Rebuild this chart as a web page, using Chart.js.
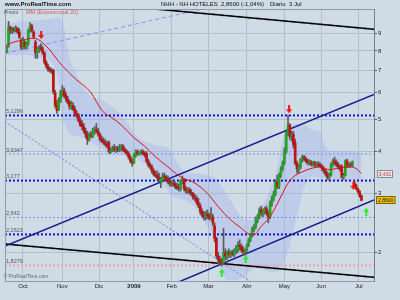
<!DOCTYPE html>
<html lang="es">
<head>
    <meta charset="UTF-8">
    <title>NHH - NH HOTELES</title>
    <script src="https://cdn.jsdelivr.net/npm/chart.js"></script>
    <style>
        body {
            margin: 0;
            background: #cfdce5;
        }
        .chart-box {
            position: relative;
            width: 400px;
            height: 300px;
        }
    </style>
</head>
<body>
    <div class="chart-box"><canvas id="nhhChart"></canvas></div>

    <script>
        // daily candles, first one is trading day 1
        const firstDay = 1;
        const opens = [
            7.95, 8.3, 9.4, 9.2, 9.3, 9.2, 9.35, 9.1, 8.6, 8.2,
            8.5, 8.2, 8.4, 9.2, 9.5, 9.1, 8.5, 7.9, 8.1, 8.2,
            8.1, 7.9, 7.4, 7.2, 7.05, 7.0, 7.0, 6.0, 5.5, 5.35,
            5.7, 6.0, 6.1, 5.9, 5.75, 5.6, 5.4, 5.5, 5.35, 5.2,
            5.15, 4.95, 4.85, 4.75, 4.6, 4.5, 4.35, 4.5, 4.45, 4.6,
            4.65, 4.6, 4.5, 4.35, 4.3, 4.25, 4.2, 4.25, 4.0, 4.05,
            4.1, 4.05, 4.1, 4.05, 4.1, 4.15, 4.05, 4.0, 3.95, 3.85,
            3.75, 3.7, 3.9, 4.0, 3.95, 3.98, 4.0, 3.95, 3.95, 3.75,
            3.65, 3.6, 3.5, 3.42, 3.4, 3.35, 3.25, 3.32, 3.38, 3.35,
            3.3, 3.25, 3.2, 3.22, 3.2, 3.15, 3.12, 3.1, 3.25, 3.3,
            3.1, 3.05, 3.08, 3.02, 3.0, 2.92, 2.9, 2.82, 2.75, 2.65,
            2.58, 2.55, 2.6, 2.57, 2.53, 2.55, 2.4, 2.2, 1.95, 1.9,
            1.88, 1.86, 2.0, 1.95, 2.0, 1.97, 2.0, 1.98, 2.02, 2.06,
            2.1, 2.08, 2.03, 2.0, 2.03, 2.1, 2.18, 2.25, 2.35, 2.38,
            2.5, 2.55, 2.68, 2.62, 2.65, 2.7, 2.62, 2.55, 2.8, 2.9,
            3.0, 3.25, 3.15, 3.4, 3.55, 3.7, 4.0, 4.5, 4.8, 4.45,
            4.5, 4.25, 3.7, 3.55, 3.6, 3.78, 3.85, 3.8, 3.75, 3.7,
            3.72, 3.66, 3.7, 3.65, 3.68, 3.64, 3.62, 3.55, 3.5, 3.42,
            3.35, 3.4, 3.65, 3.75, 3.7, 3.65, 3.6, 3.62, 3.35, 3.4,
            3.75, 3.62, 3.66, 3.64, 3.25, 3.18, 3.1, 3.04, 2.95
        ];
        const highs = [
            8.3, 9.8, 9.5, 9.4, 9.4, 9.5, 9.4, 9.3, 8.7, 8.8,
            8.6, 8.5, 9.3, 9.7, 9.6, 9.2, 8.6, 8.2, 8.3, 8.4,
            8.25, 7.95, 7.5, 7.3, 7.15, 7.1, 7.05, 6.1, 5.7, 5.8,
            6.1, 6.3, 6.2, 6.0, 5.85, 5.7, 5.65, 5.6, 5.45, 5.3,
            5.2, 5.05, 4.95, 4.85, 4.7, 4.6, 4.55, 4.6, 4.7, 4.75,
            4.85, 4.7, 4.55, 4.45, 4.4, 4.35, 4.3, 4.3, 4.1, 4.15,
            4.2, 4.15, 4.15, 4.2, 4.2, 4.2, 4.1, 4.05, 4.0, 3.9,
            3.8, 3.95, 4.05, 4.05, 4.0, 4.05, 4.05, 4.0, 4.0, 3.8,
            3.7, 3.65, 3.55, 3.5, 3.5, 3.45, 3.35, 3.45, 3.45, 3.4,
            3.38, 3.3, 3.28, 3.3, 3.25, 3.22, 3.2, 3.3, 3.38, 3.32,
            3.15, 3.12, 3.12, 3.08, 3.02, 2.98, 2.95, 2.9, 2.8, 2.7,
            2.65, 2.65, 2.68, 2.62, 2.72, 2.6, 2.45, 2.22, 2.0, 1.95,
            1.92, 2.36, 2.05, 2.02, 2.05, 2.02, 2.03, 2.05, 2.1, 2.15,
            2.18, 2.12, 2.08, 2.05, 2.12, 2.2, 2.28, 2.38, 2.42, 2.55,
            2.6, 2.72, 2.75, 2.7, 2.73, 2.75, 2.66, 2.85, 2.95, 3.05,
            3.3, 3.4, 3.45, 3.6, 3.75, 4.1, 4.6, 5.14, 4.85, 4.6,
            4.6, 4.35, 3.75, 3.65, 3.82, 3.9, 3.9, 3.85, 3.8, 3.78,
            3.76, 3.74, 3.75, 3.72, 3.74, 3.7, 3.66, 3.6, 3.55, 3.48,
            3.45, 3.7, 3.8, 3.85, 3.78, 3.72, 3.65, 3.65, 3.45, 3.78,
            3.8, 3.7, 3.72, 3.75, 3.28, 3.2, 3.12, 3.06, 2.97
        ];
        const lows = [
            7.9, 8.2, 9.0, 9.0, 9.1, 9.1, 9.0, 8.7, 8.1, 8.1,
            8.1, 8.1, 8.3, 9.1, 9.1, 8.7, 7.6, 7.6, 7.9, 8.0,
            7.8, 7.3, 7.1, 6.95, 6.9, 6.85, 5.95, 5.4, 5.2, 5.3,
            5.6, 5.85, 5.8, 5.65, 5.55, 5.35, 5.35, 5.3, 5.15, 5.05,
            4.9, 4.75, 4.65, 4.55, 4.4, 4.2, 4.3, 4.4, 4.4, 4.5,
            4.55, 4.45, 4.3, 4.25, 4.2, 4.15, 4.1, 3.95, 3.95, 4.0,
            4.0, 3.98, 4.0, 4.0, 4.02, 4.0, 3.95, 3.9, 3.8, 3.7,
            3.62, 3.68, 3.85, 3.9, 3.9, 3.92, 3.9, 3.85, 3.7, 3.6,
            3.55, 3.45, 3.38, 3.35, 3.3, 3.25, 3.12, 3.25, 3.3, 3.25,
            3.2, 3.15, 3.15, 3.15, 3.1, 3.08, 3.05, 3.05, 3.2, 3.05,
            3.0, 3.0, 2.98, 2.95, 2.88, 2.85, 2.78, 2.72, 2.6, 2.55,
            2.5, 2.5, 2.52, 2.5, 2.5, 2.4, 2.15, 1.92, 1.85, 1.84,
            1.82, 1.85, 1.9, 1.9, 1.93, 1.93, 1.95, 1.94, 1.98, 2.0,
            2.03, 2.0, 1.97, 1.96, 2.0, 2.08, 2.15, 2.22, 2.3, 2.35,
            2.45, 2.52, 2.58, 2.55, 2.6, 2.58, 2.45, 2.52, 2.75, 2.85,
            2.95, 3.1, 3.1, 3.35, 3.5, 3.65, 3.95, 4.45, 4.35, 4.3,
            4.1, 3.65, 3.45, 3.45, 3.55, 3.72, 3.75, 3.7, 3.65, 3.65,
            3.62, 3.62, 3.6, 3.6, 3.6, 3.58, 3.5, 3.45, 3.38, 3.3,
            3.27, 3.38, 3.6, 3.65, 3.6, 3.55, 3.5, 3.33, 3.3, 3.38,
            3.6, 3.58, 3.6, 3.6, 3.15, 3.08, 3.0, 2.92, 2.85
        ];
        const closes = [
            8.2, 9.4, 9.2, 9.3, 9.2, 9.35, 9.1, 8.8, 8.2, 8.6,
            8.25, 8.4, 9.2, 9.5, 9.2, 8.8, 7.9, 8.1, 8.2, 8.1,
            7.9, 7.4, 7.2, 7.05, 7.0, 6.95, 6.05, 5.5, 5.3, 5.65,
            6.0, 6.1, 5.9, 5.75, 5.6, 5.45, 5.55, 5.35, 5.2, 5.1,
            4.95, 4.8, 4.75, 4.6, 4.5, 4.35, 4.5, 4.45, 4.6, 4.65,
            4.6, 4.5, 4.35, 4.3, 4.25, 4.2, 4.15, 4.0, 4.05, 4.1,
            4.05, 4.1, 4.05, 4.1, 4.15, 4.05, 4.0, 3.95, 3.85, 3.75,
            3.7, 3.9, 4.0, 3.95, 3.98, 4.0, 3.95, 3.9, 3.75, 3.65,
            3.6, 3.5, 3.42, 3.4, 3.35, 3.3, 3.32, 3.38, 3.35, 3.3,
            3.25, 3.2, 3.22, 3.2, 3.15, 3.12, 3.1, 3.25, 3.3, 3.1,
            3.05, 3.08, 3.02, 3.0, 2.92, 2.9, 2.82, 2.75, 2.65, 2.58,
            2.55, 2.6, 2.57, 2.53, 2.55, 2.45, 2.2, 1.95, 1.9, 1.88,
            1.86, 2.0, 1.95, 2.0, 1.97, 2.0, 1.98, 2.02, 2.06, 2.1,
            2.08, 2.03, 2.0, 2.02, 2.1, 2.18, 2.25, 2.35, 2.38, 2.5,
            2.55, 2.68, 2.62, 2.65, 2.7, 2.62, 2.55, 2.8, 2.9, 3.0,
            3.25, 3.15, 3.4, 3.55, 3.7, 4.0, 4.5, 4.8, 4.45, 4.5,
            4.2, 3.7, 3.55, 3.6, 3.78, 3.85, 3.8, 3.75, 3.7, 3.72,
            3.66, 3.7, 3.65, 3.68, 3.64, 3.62, 3.55, 3.5, 3.42, 3.35,
            3.4, 3.65, 3.75, 3.7, 3.65, 3.6, 3.55, 3.35, 3.4, 3.75,
            3.62, 3.66, 3.64, 3.72, 3.18, 3.1, 3.04, 2.95, 2.86
        ];

        // MM (Exponencial 20)
        const maDays = [1, 5, 10, 15, 18, 21, 25, 30, 35, 40, 44, 48, 54, 57, 59, 65, 72, 78, 84, 91,
            98, 106, 113, 119, 126, 132, 136, 139, 143, 148, 154, 158, 161, 165, 170, 176, 181, 185, 193, 196, 199];
        const maValues = [8.33, 8.5, 8.62, 8.72, 8.68, 8.45, 8.05, 7.43, 6.95, 6.55, 6.3, 6.0, 5.32, 5.15, 5.08, 4.8, 4.4, 4.15, 3.86, 3.6,
            3.36, 3.22, 3.0, 2.74, 2.5, 2.36, 2.27, 2.26, 2.39, 2.56, 2.93, 3.22, 3.36, 3.46, 3.55, 3.6, 3.53, 3.56, 3.6, 3.56, 3.44];

        // shaded band around the average
        const bandDays = [0, 10, 17, 28, 30, 32, 34, 36, 39, 43, 48, 54, 59, 65, 69, 72, 76, 80, 85, 91, 95, 98, 102,
            106, 110, 113, 117, 119, 122, 126, 132, 137, 141, 146, 152, 156, 159, 163, 167, 172, 176, 179, 182, 188, 193, 199];
        const bandUpper = [9.66, 9.8, 9.87, 10.0, 10.1, 9.7, 8.8, 7.6, 7.0, 6.3, 5.85, 5.7, 5.48, 5.14, 4.84, 4.52, 4.33, 4.26, 4.17, 4.09, 3.8, 3.58, 3.44,
            3.44, 3.43, 3.4, 3.35, 3.25, 3.08, 2.85, 2.55, 2.5, 2.62, 2.9, 3.6, 4.55, 4.8, 4.83, 4.8, 4.65, 4.54, 4.14, 4.0, 4.0, 4.0, 3.96];
        const bandLower = [7.78, 7.78, 7.69, 7.1, 6.4, 5.1, 4.75, 4.52, 4.45, 4.4, 4.27, 4.08, 3.95, 3.9, 3.88, 3.86, 3.75, 3.58, 3.3, 3.06, 2.92, 2.89, 2.83,
            2.73, 2.53, 2.39, 2.15, 1.88, 1.7, 1.65, 1.67, 1.76, 1.8, 1.76, 1.75, 1.9, 2.08, 2.56, 3.14, 3.36, 3.34, 3.32, 3.27, 3.28, 3.29, 3.26];

        // horizontal levels
        const levelValues = [5.1299, 3.9347, 3.277, 2.542, 2.2623, 1.8279];
        const levelLabels = ['5,1299', '3,9347', '3,277', '2,542', '2,2623', '1,8279'];

        // trend lines, value at first and last day of the axis
        const trendDays = [0, 206];
        const channelTop = [2.089, 5.93];
        const channelBottom = [0.988, 2.867];
        const wedgeTop = [11.74, 9.28];
        const wedgeBottom = [2.118, 1.685];
        const fanUp = [7.865, 13.9];
        const fanDown = [4.914, 0.943];

        // signal arrows
        const sellDays = [20.2, 158.6, 194.5];
        const sellValues = [8.92, 5.35, 3.16];
        const buyDays = [121, 134.4, 201.7];
        const buyValues = [1.739, 1.906, 2.645];

        // axes
        const monthDays = [10, 32, 52.5, 72, 93, 113.5, 135, 156, 176.5, 197.5];
        const monthLabels = ['Oct', 'Nov', 'Dic', '2009', 'Feb', 'Mar', 'Abr', 'May', 'Jun', 'Jul'];
        const priceTicks = [2, 3, 4, 5, 6, 7, 8, 9];

        const lastAverage = 3.431;
        const lastClose = 2.86;

        const FONT = '"Liberation Sans", Arial, sans-serif';

        function makeArrow(color, down) {
            const c = document.createElement('canvas');
            c.width = 6;
            c.height = 8;
            const g = c.getContext('2d');
            g.fillStyle = color;
            g.beginPath();
            if (down) {
                g.rect(2, 0, 2, 4);
                g.moveTo(0, 4); g.lineTo(6, 4); g.lineTo(3, 8);
            } else {
                g.rect(2, 4, 2, 4);
                g.moveTo(0, 4); g.lineTo(6, 4); g.lineTo(3, 0);
            }
            g.fill();
            return c;
        }

        function toPoints(xs, ys) {
            return xs.map((x, k) => ({ x: x, y: ys[k] }));
        }

        function lineSet(data, color, width, dash, order) {
            return {
                type: 'line',
                data: data,
                borderColor: color,
                borderWidth: width,
                borderDash: dash,
                pointRadius: 0,
                fill: false,
                order: order
            };
        }

        const days = closes.map((c, k) => firstDay + k);
        const wickData = days.map((d, k) => ({ x: d, y: [lows[k], highs[k]] }));
        const bodyData = days.map((d, k) => ({ x: d, y: [opens[k], closes[k]] }));
        const bodyColors = closes.map((c, k) => c >= opens[k] ? '#22a622' : '#c41010');

        const levelStyles = [
            { color: '#1414cc', width: 2 },
            { color: '#7f88ee', width: 1 },
            { color: '#1414cc', width: 2 },
            { color: '#7f88ee', width: 1 },
            { color: '#1414cc', width: 2 },
            { color: '#f3a2aa', width: 2 }
        ];
        const levelSets = levelValues.map((v, k) =>
            lineSet(toPoints(trendDays, [v, v]), levelStyles[k].color, levelStyles[k].width, [2, 2], 5));

        const texts = {
            id: 'texts',
            beforeDraw(chart) {
                const ctx = chart.ctx;
                ctx.save();
                ctx.fillStyle = '#cfdce5';
                ctx.fillRect(0, 0, chart.width, chart.height);
                ctx.restore();
            },
            afterDatasetsDraw(chart) {
                const { ctx, chartArea, scales } = chart;
                ctx.save();
                ctx.font = '5.5px ' + FONT;
                ctx.fillStyle = '#555';
                ctx.textBaseline = 'bottom';
                levelValues.forEach((v, k) => {
                    ctx.fillText(levelLabels[k], chartArea.left + 1, scales.y.getPixelForValue(v) - 1);
                });

                // frame top and left
                ctx.strokeStyle = '#8d9ca8';
                ctx.lineWidth = 1;
                ctx.beginPath();
                ctx.moveTo(chartArea.left + 0.5, chartArea.bottom);
                ctx.lineTo(chartArea.left + 0.5, chartArea.top + 0.5);
                ctx.lineTo(chartArea.right, chartArea.top + 0.5);
                ctx.stroke();

                ctx.textBaseline = 'middle';
                ctx.font = '5px ' + FONT;
                ctx.fillStyle = '#555';
                ctx.fillText('Precio', 4, 12.5);
                ctx.fillStyle = '#d05858';
                ctx.font = '5.5px ' + FONT;
                ctx.fillText('MM (Exponencial 20)', 26, 12.5);
                ctx.fillStyle = '#666';
                ctx.font = '5px ' + FONT;
                ctx.fillText('\u00A9 ProRealTime.com', 3.5, 277);
                ctx.restore();
            },
            afterDraw(chart) {
                const { ctx, scales } = chart;
                ctx.save();
                ctx.textBaseline = 'middle';
                ctx.fillStyle = '#111';
                ctx.font = 'bold 6px ' + FONT;
                ctx.fillText('www.ProRealTime.com', 5, 4.8);
                ctx.font = '6px ' + FONT;
                ctx.fillText('NHH - NH HOTELES', 161, 4.8);
                ctx.fillText('2,8600 (-1,04%)', 221, 4.8);
                ctx.fillText('Diario  3 Jul', 270, 4.8);

                // last values on the price axis
                const boxes = [
                    { v: lastAverage, text: '3,431', x: 377.5, w: 15, fill: '#e7eaf1', line: '#8a8a8a', ink: '#cc2222' },
                    { v: lastClose, text: '2,8600', x: 376.5, w: 18.5, fill: '#f2c200', line: '#7a6000', ink: '#111' }
                ];
                ctx.font = '5px ' + FONT;
                ctx.textAlign = 'center';
                boxes.forEach(b => {
                    const y = Math.round(scales.y.getPixelForValue(b.v));
                    ctx.fillStyle = b.fill;
                    ctx.fillRect(b.x, y - 3.5, b.w, 7);
                    ctx.strokeStyle = b.line;
                    ctx.lineWidth = 1;
                    ctx.strokeRect(b.x, y - 3.5, b.w, 7);
                    ctx.fillStyle = b.ink;
                    ctx.fillText(b.text, b.x + b.w / 2, y + 0.3);
                });
                ctx.restore();
            }
        };

        new Chart(document.getElementById('nhhChart'), {
            type: 'bar',
            data: {
                datasets: [
                    {
                        type: 'line',
                        data: toPoints(bandDays, bandUpper),
                        borderWidth: 0,
                        pointRadius: 0,
                        cubicInterpolationMode: 'monotone',
                        fill: false,
                        order: 7
                    },
                    {
                        type: 'line',
                        data: toPoints(bandDays, bandLower),
                        borderWidth: 0,
                        pointRadius: 0,
                        cubicInterpolationMode: 'monotone',
                        backgroundColor: 'rgba(160, 172, 242, 0.32)',
                        fill: '-1',
                        order: 6
                    },
                    ...levelSets,
                    lineSet(toPoints(trendDays, channelTop), '#1a1a90', 1.5, [], 4),
                    lineSet(toPoints(trendDays, channelBottom), '#1a1a90', 1.5, [], 4),
                    lineSet(toPoints(trendDays, wedgeTop), '#000', 1.5, [], 4),
                    lineSet(toPoints(trendDays, wedgeTop), '#9a9a9a', 2, [4, 5], 4),
                    lineSet(toPoints(trendDays, wedgeBottom), '#000', 1.5, [], 4),
                    lineSet(toPoints(trendDays, wedgeBottom), '#9a9a9a', 2, [4, 5], 4),
                    lineSet(toPoints(trendDays, fanUp), '#8c8cf5', 1, [4, 3], 4),
                    lineSet(toPoints(trendDays, fanDown), '#7676ee', 1, [2, 2], 4),
                    {
                        data: wickData,
                        backgroundColor: '#5a5a5a',
                        barThickness: 1,
                        grouped: false,
                        order: 3
                    },
                    {
                        data: bodyData,
                        backgroundColor: bodyColors,
                        barThickness: 2,
                        minBarLength: 1,
                        grouped: false,
                        order: 2
                    },
                    {
                        type: 'line',
                        data: toPoints(maDays, maValues),
                        borderColor: '#dd1111',
                        borderWidth: 1,
                        pointRadius: 0,
                        cubicInterpolationMode: 'monotone',
                        fill: false,
                        order: 1
                    },
                    {
                        type: 'line',
                        data: toPoints(sellDays, sellValues),
                        showLine: false,
                        pointStyle: makeArrow('#ee1111', true),
                        order: 0
                    },
                    {
                        type: 'line',
                        data: toPoints(buyDays, buyValues),
                        showLine: false,
                        pointStyle: makeArrow('#22ee22', false),
                        order: 0
                    }
                ]
            },
            options: {
                responsive: true,
                maintainAspectRatio: false,
                animation: false,
                events: [],
                layout: {
                    padding: { top: 9, left: 3, right: 0, bottom: 0 }
                },
                plugins: {
                    legend: { display: false },
                    tooltip: { enabled: false }
                },
                scales: {
                    x: {
                        type: 'linear',
                        min: 0,
                        max: 206,
                        offset: false,
                        grid: {
                            color: '#afc0cc',
                            offset: false,
                            drawTicks: false
                        },
                        border: { color: '#8d9ca8' },
                        afterBuildTicks: scale => {
                            scale.ticks = monthDays.map(d => ({ value: d }));
                        },
                        afterFit: scale => { scale.height = 19; },
                        ticks: {
                            autoSkip: false,
                            maxRotation: 0,
                            padding: 2,
                            color: '#222',
                            font: ctx => ({
                                family: FONT,
                                size: 6,
                                weight: monthLabels[ctx.index] === '2009' ? 'bold' : 'normal'
                            }),
                            callback: (value, index) => monthLabels[index]
                        }
                    },
                    y: {
                        type: 'logarithmic',
                        position: 'right',
                        min: 1.642,
                        max: 10.67,
                        grid: {
                            color: '#afc0cc',
                            tickColor: '#555',
                            tickLength: 3
                        },
                        border: { color: '#6f7e88' },
                        afterBuildTicks: scale => {
                            scale.ticks = priceTicks.map(v => ({ value: v }));
                        },
                        afterFit: scale => { scale.width = 26; },
                        ticks: {
                            padding: 1,
                            color: '#222',
                            font: { family: FONT, size: 6 },
                            callback: value => String(value)
                        }
                    }
                }
            },
            plugins: [texts]
        });
    </script>
</body>
</html>
